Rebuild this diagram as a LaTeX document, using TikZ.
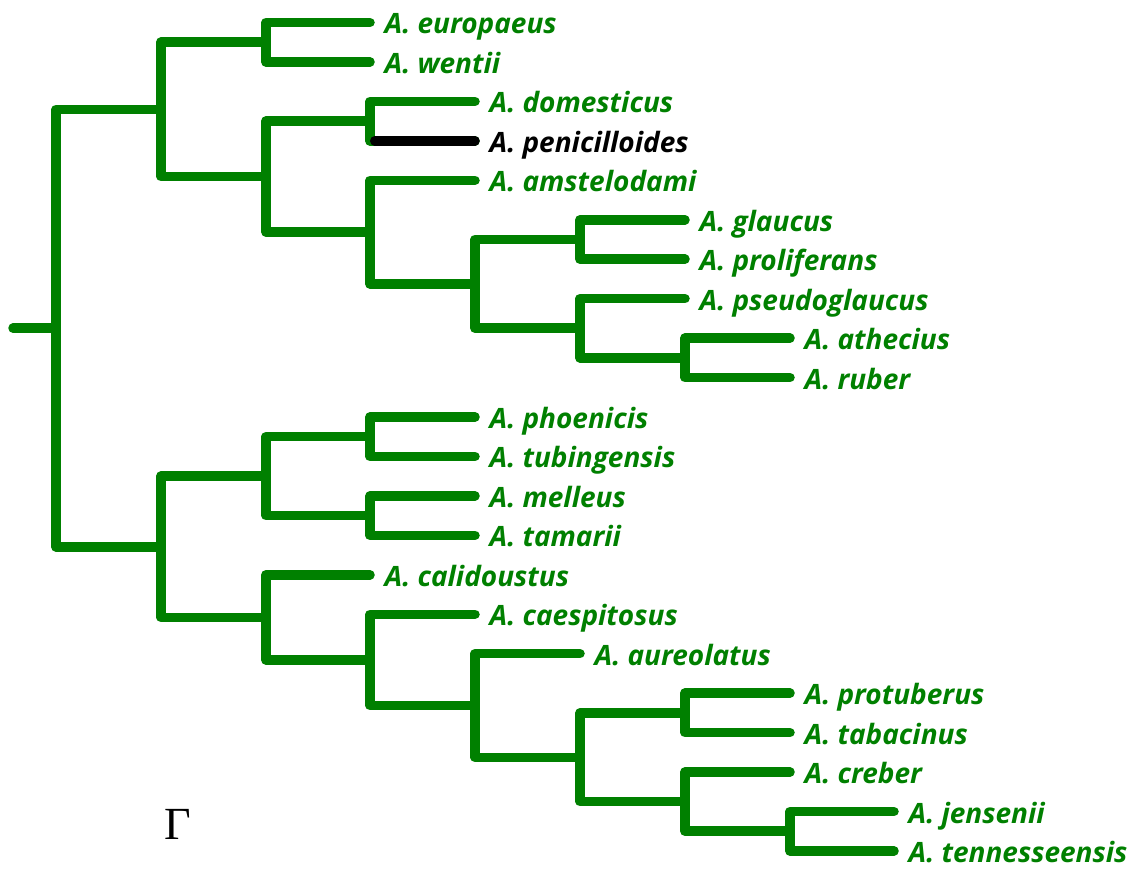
\documentclass[tikz,border=0pt]{standalone}
\usepackage{fontspec}
\setmainfont{Open Sans}
\newfontfamily\greekfont{Liberation Serif}
\definecolor{cladegreen}{RGB}{0,128,0}

\begin{document}
\begin{tikzpicture}[x=1pt,y=-1pt,
        branch/.style={draw=cladegreen,line width=9.5pt,line cap=round,line join=round},
        taxon/.style={anchor=base west,inner sep=0pt,xshift=14.5pt,yshift=-11.5pt,text=cladegreen,
            font=\fontsize{28}{32}\selectfont\bfseries\itshape}]
        \useasboundingbox (0,0) rectangle (1133,870);

        % tips
        \coordinate (t-eur) at (370,22.5);
        \coordinate (t-wen) at (370,61.95);
        \coordinate (t-dom) at (475,101.4);
        \coordinate (t-pen) at (475,140.85);
        \coordinate (t-ams) at (475,180.3);
        \coordinate (t-gla) at (685,219.75);
        \coordinate (t-pro) at (685,259.2);
        \coordinate (t-pse) at (685,298.65);
        \coordinate (t-ath) at (790,338.1);
        \coordinate (t-rub) at (790,377.55);
        \coordinate (t-pho) at (475,417);
        \coordinate (t-tub) at (475,456.45);
        \coordinate (t-mel) at (475,495.9);
        \coordinate (t-tam) at (475,535.35);
        \coordinate (t-cal) at (370,574.8);
        \coordinate (t-cae) at (475,614.25);
        \coordinate (t-aur) at (580,653.7);
        \coordinate (t-prt) at (790,693.15);
        \coordinate (t-tab) at (790,732.6);
        \coordinate (t-cre) at (790,772.05);
        \coordinate (t-jen) at (894,811.5);
        \coordinate (t-ten) at (894,850.95);

        \node[taxon] (eur) at (t-eur) {A. europaeus};
        \node[taxon] (wen) at (t-wen) {A. wentii};
        \node[taxon] (dom) at (t-dom) {A. domesticus};
        \node[taxon,text=black] (pen) at (t-pen) {A. penicilloides};
        \node[taxon] (ams) at (t-ams) {A. amstelodami};
        \node[taxon] (gla) at (t-gla) {A. glaucus};
        \node[taxon] (pro) at (t-pro) {A. proliferans};
        \node[taxon] (pse) at (t-pse) {A. pseudoglaucus};
        \node[taxon] (ath) at (t-ath) {A. athecius};
        \node[taxon] (rub) at (t-rub) {A. ruber};
        \node[taxon] (pho) at (t-pho) {A. phoenicis};
        \node[taxon] (tub) at (t-tub) {A. tubingensis};
        \node[taxon] (mel) at (t-mel) {A. melleus};
        \node[taxon] (tam) at (t-tam) {A. tamarii};
        \node[taxon] (cal) at (t-cal) {A. calidoustus};
        \node[taxon] (cae) at (t-cae) {A. caespitosus};
        \node[taxon] (aur) at (t-aur) {A. aureolatus};
        \node[taxon] (prt) at (t-prt) {A. protuberus};
        \node[taxon] (tab) at (t-tab) {A. tabacinus};
        \node[taxon] (cre) at (t-cre) {A. creber};
        \node[taxon] (jen) at (t-jen) {A. jensenii};
        \node[taxon] (ten) at (t-ten) {A. tennesseensis};

        % internal nodes
        \coordinate (stub) at (13,328.1);
        \coordinate (root) at (56,328.1);
        \coordinate (up) at (161,109.4);
        \coordinate (ew) at (266,42.2);
        \coordinate (rest) at (266,176.6);
        \coordinate (dp) at (370,121.1);
        \coordinate (am) at (370,232.1);
        \coordinate (gp2) at (475,283.9);
        \coordinate (gp) at (580,239.5);
        \coordinate (pa) at (580,328.2);
        \coordinate (ar) at (685,357.8);
        \coordinate (low) at (161,546.8);
        \coordinate (pt) at (266,476.2);
        \coordinate (ph) at (370,436.7);
        \coordinate (mt) at (370,515.6);
        \coordinate (cr) at (266,617.3);
        \coordinate (ca) at (370,659.9);
        \coordinate (au) at (475,705.5);
        \coordinate (pc) at (580,757.3);
        \coordinate (pr) at (685,712.9);
        \coordinate (cj) at (685,801.6);
        \coordinate (jt) at (790,831.2);

        \draw[branch] (stub) -- (root);
        \draw[branch] (root) |- (up);
        \draw[branch] (root) |- (low);
        \draw[branch] (up) |- (ew);
        \draw[branch] (up) |- (rest);
        \draw[branch] (ew) |- (t-eur);
        \draw[branch] (ew) |- (t-wen);
        \draw[branch] (rest) |- (dp);
        \draw[branch] (rest) |- (am);
        \draw[branch] (dp) |- (t-dom);
        \draw[branch] (dp) |- (t-pen);
        \draw[branch,draw=black] ([xshift=4.75pt]dp |- t-pen) -- (t-pen);
        \draw[branch] (am) |- (t-ams);
        \draw[branch] (am) |- (gp2);
        \draw[branch] (gp2) |- (gp);
        \draw[branch] (gp2) |- (pa);
        \draw[branch] (gp) |- (t-gla);
        \draw[branch] (gp) |- (t-pro);
        \draw[branch] (pa) |- (t-pse);
        \draw[branch] (pa) |- (ar);
        \draw[branch] (ar) |- (t-ath);
        \draw[branch] (ar) |- (t-rub);
        \draw[branch] (low) |- (pt);
        \draw[branch] (low) |- (cr);
        \draw[branch] (pt) |- (ph);
        \draw[branch] (pt) |- (mt);
        \draw[branch] (ph) |- (t-pho);
        \draw[branch] (ph) |- (t-tub);
        \draw[branch] (mt) |- (t-mel);
        \draw[branch] (mt) |- (t-tam);
        \draw[branch] (cr) |- (t-cal);
        \draw[branch] (cr) |- (ca);
        \draw[branch] (ca) |- (t-cae);
        \draw[branch] (ca) |- (au);
        \draw[branch] (au) |- (t-aur);
        \draw[branch] (au) |- (pc);
        \draw[branch] (pc) |- (pr);
        \draw[branch] (pc) |- (cj);
        \draw[branch] (pr) |- (t-prt);
        \draw[branch] (pr) |- (t-tab);
        \draw[branch] (cj) |- (t-cre);
        \draw[branch] (cj) |- (jt);
        \draw[branch] (jt) |- (t-jen);
        \draw[branch] (jt) |- (t-ten);

        \node[font=\greekfont\fontsize{46}{50}\selectfont,inner sep=0pt] (gamma) at (178,824) {Γ};
\end{tikzpicture}
\end{document}
